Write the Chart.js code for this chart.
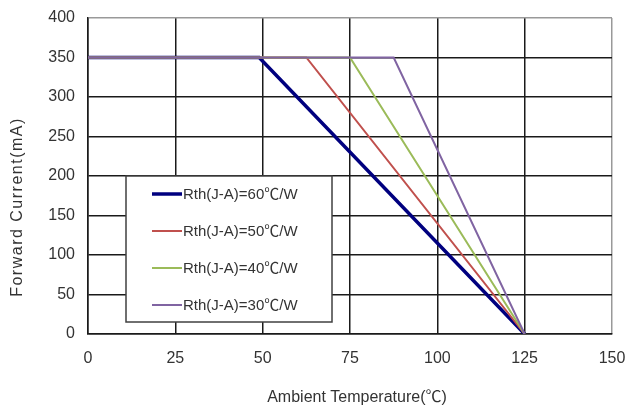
<!DOCTYPE html>
<html>
<head>
<meta charset="utf-8">
<script src="https://cdn.jsdelivr.net/npm/chart.js@4"></script>
<style>
  html, body { margin: 0; padding: 0; background: #fff; }
  #wrap { width: 627px; height: 407px; }
</style>
</head>
<body>
<div id="wrap"><canvas id="chart" width="627" height="407"></canvas></div>
<script>
// derating curves: flat at 350 mA until the knee, then down to 0 at 125 C
const seriesNames = ["Rth(J-A)=60\u2103/W", "Rth(J-A)=50\u2103/W", "Rth(J-A)=40\u2103/W", "Rth(J-A)=30\u2103/W"];
const seriesColors = ["#00007f", "#c0504d", "#9bbb59", "#8064a2"];
const tempPoints = [
  [0, 49, 125],
  [0, 62.5, 125],
  [0, 75, 125],
  [0, 87.5, 125]
];
const currentPoints = [
  [350, 350, 0],
  [350, 350, 0],
  [350, 350, 0],
  [350, 350, 0]
];
const xTicks = [0, 25, 50, 75, 100, 125, 150];
const yTicks = [0, 50, 100, 150, 200, 250, 300, 350, 400];

const FONT = "'Liberation Sans', 'Noto Sans CJK SC', Arial, sans-serif";
const TXT = "#333";

((d) => {
  const CHART = d.getElementById('chart');

  const datasets = seriesNames.map((name, i) => ({
    label: name,
    data: tempPoints[i].map((t, j) => ({ x: t, y: currentPoints[i][j] })),
    borderColor: seriesColors[i],
    backgroundColor: seriesColors[i],
    borderWidth: i === 0 ? 3.5 : 2,
    pointRadius: 0,
    tension: 0,
    fill: false,
    order: seriesNames.length - i
  }));

  // legend box + axis titles
  const extras = {
    id: 'extras',
    afterDatasetsDraw(chart) {
      const ctx = chart.ctx;
      ctx.save();
      // legend box
      const bx = 126, by = 176, bw = 206, bh = 146;
      ctx.fillStyle = '#fff';
      ctx.fillRect(bx, by, bw, bh);
      ctx.strokeStyle = '#404040';
      ctx.lineWidth = 1.5;
      ctx.strokeRect(bx, by, bw, bh);
      const rows = [194, 231, 268, 305];
      ctx.font = "15px " + FONT;
      ctx.textBaseline = 'middle';
      ctx.textAlign = 'left';
      seriesNames.forEach((name, i) => {
        ctx.strokeStyle = seriesColors[i];
        ctx.lineWidth = i === 0 ? 3.5 : 2;
        ctx.beginPath();
        ctx.moveTo(152, rows[i]);
        ctx.lineTo(182, rows[i]);
        ctx.stroke();
        ctx.fillStyle = TXT;
        ctx.fillText(name, 183, rows[i] + 1);
      });
      ctx.restore();
    },
    afterDraw(chart) {
      const ctx = chart.ctx;
      ctx.save();
      ctx.fillStyle = TXT;
      ctx.font = "16px " + FONT;
      ctx.textAlign = 'center';
      ctx.textBaseline = 'middle';
      ctx.fillText("Ambient Temperature(\u2103)", 357, 398);
      ctx.translate(18, 207);
      ctx.rotate(-Math.PI / 2);
      ctx.letterSpacing = '1.5px';
      ctx.fillText("Forward Current(mA)", 0, 0);
      ctx.restore();
    }
  };

  let lineChart = new Chart(CHART, {
    type: 'line',
    data: { datasets },
    options: {
      responsive: false,
      animation: false,
      layout: { padding: { left: 0, right: 15, top: 18, bottom: 0 } },
      plugins: {
        legend: { display: false },
        tooltip: { enabled: false }
      },
      scales: {
        x: {
          type: 'linear',
          min: 0,
          max: 150,
          afterFit: (s) => { s.height = 73; s.paddingLeft = 0; s.paddingRight = 0; },
          afterBuildTicks: (s) => { s.ticks = xTicks.map(v => ({ value: v })); },
          grid: {
            color: (c) => c.tick && c.tick.value === 150 ? '#999' : '#1a1a1a',
            lineWidth: 1.5,
            drawTicks: false
          },
          border: { color: '#1a1a1a', width: 1.5 },
          ticks: { padding: 15, color: TXT, font: { family: FONT, size: 16 } }
        },
        y: {
          min: 0,
          max: 400,
          afterFit: (s) => { s.width = 88; s.paddingTop = 0; s.paddingBottom = 0; },
          afterBuildTicks: (s) => { s.ticks = yTicks.map(v => ({ value: v })); },
          grid: {
            color: (c) => c.tick && c.tick.value === 400 ? '#999' : '#1a1a1a',
            lineWidth: 1.5,
            drawTicks: false
          },
          border: { color: '#1a1a1a', width: 1.5 },
          ticks: { padding: 13, color: TXT, font: { family: FONT, size: 16 } }
        }
      }
    },
    plugins: [extras]
  });
})(document);
</script>
</body>
</html>
